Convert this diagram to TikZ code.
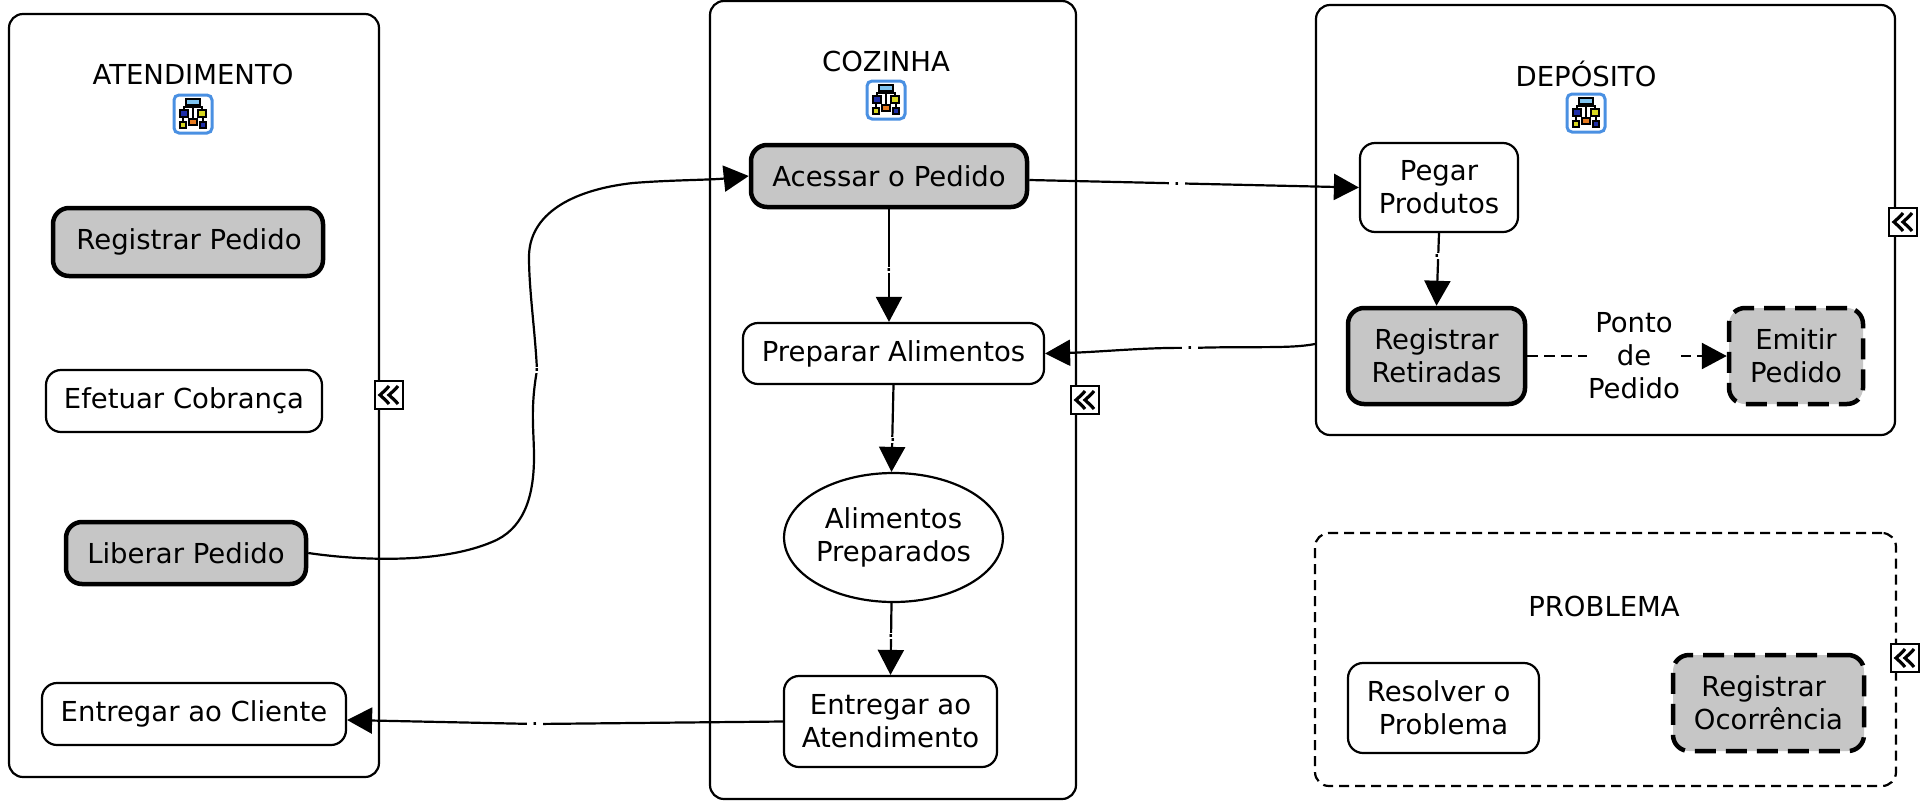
\documentclass[tikz,border=0pt]{standalone}
\usepackage{fontspec}
\setmainfont{DejaVu Sans}
\usetikzlibrary{arrows.meta,shapes.geometric,calc}
\definecolor{fillgrey}{HTML}{C6C6C6}
\definecolor{iconblue}{HTML}{4A90E2}
\definecolor{icontop}{HTML}{7FC4F0}
\definecolor{iconnavy}{HTML}{1F2FA8}
\definecolor{iconyellow}{HTML}{D8D820}
\definecolor{iconorange}{HTML}{E87B20}
\newcommand{\bx}[7]{%
  \pgfmathsetmacro\cxx{(#2+#4)/2}\pgfmathsetmacro\cyy{(#3+#5)/2}%
  \pgfmathsetmacro\www{#4-#2-2}\pgfmathsetmacro\hhh{#5-#3-2}%
  \node[#6,minimum width=\www pt,minimum height=\hhh pt] (#1) at (\cxx,\cyy) {#7};}
\tikzset{
  base/.style={inner sep=0pt,align=center,font=\fontsize{27.5}{33}\selectfont,text=black},
  pane/.style={draw=black,line width=2.2pt,rounded corners=14pt,fill=white},
  panedash/.style={pane,dash pattern=on 10pt off 6pt},
  plain/.style={base,draw=black,line width=2.2pt,rounded corners=15pt,fill=white},
  heavy/.style={base,draw=black,line width=4.5pt,rounded corners=16pt,fill=fillgrey},
  heavydash/.style={heavy,dash pattern=on 21pt off 10pt},
  oval/.style={base,ellipse,draw=black,line width=2.2pt,fill=white},
  title/.style={inner sep=0pt,font=\fontsize{27.5}{33}\selectfont,text=black},
  conn/.style={draw=black,line width=2.2pt,-{Triangle[length=25pt,width=26pt]}},
  conndash/.style={conn,line width=2.5pt,dash pattern=on 11pt off 6pt},
  midlabel/.style={fill=white,inner sep=0pt,minimum width=16pt,minimum height=6pt,text height=3pt,text depth=0pt,font=\fontsize{24}{24}\selectfont},
  orgicon/.pic={
    \draw[iconblue,line width=3pt,rounded corners=5pt,fill=white] (-19,-19) rectangle (19,19);
    \draw[black,line width=1.5pt] (0,-8) -- (0,5) (-9,-4) -- (-9,-7) -- (9,-7) -- (9,-4) (-10,3) -- (-10,7) (10,3) -- (10,7);
    \draw[black,line width=1.2pt,fill=icontop] (-7,-15) rectangle (7,-9);
    \draw[black,line width=1.2pt,fill=iconnavy] (-13,-4) rectangle (-5,3);
    \draw[black,line width=1.2pt,fill=iconyellow] (5,-4) rectangle (13,3);
    \draw[black,line width=1.2pt,fill=iconyellow] (-13,8) rectangle (-7,14);
    \draw[black,line width=1.2pt,fill=iconorange] (-4,5) rectangle (4,11);
    \draw[black,line width=1.2pt,fill=iconnavy] (7,8) rectangle (13,14);
  },
  backicon/.pic={
    \draw[black,line width=2.2pt,fill=white] (-14,-14) rectangle (14,14);
    \draw[black,line width=3.2pt] (0,-9) .. controls (-3,-5) and (-6,-3) .. (-9,0) .. controls (-6,3) and (-3,5) .. (0,9);
    \draw[black,line width=3.2pt] (9,-9) .. controls (6,-5) and (3,-3) .. (0,0) .. controls (3,3) and (6,5) .. (9,9);
  }
}
\begin{document}
\begin{tikzpicture}[x=1pt,y=-1pt]
\useasboundingbox (0,0) rectangle (1928,801);
\fill[white] (0,0) rectangle (1928,801);
% panes
\bx{atendimento}{8}{13}{380}{778}{pane}{}
\bx{cozinha}{709}{0}{1077}{800}{pane}{}
\bx{deposito}{1315}{4}{1896}{436}{pane}{}
\bx{problema}{1314}{532}{1897}{787}{panedash}{}
% pane titles and icons
\node[title] (t1) at (193,74) {ATENDIMENTO};
\node[title] (t2) at (886,61) {COZINHA};
\node[title] (t3) at (1586,74) {DEPÓSITO};
\node[title] (t4) at (1604,606) {PROBLEMA};
\pic at (193,114) {orgicon};
\pic at (886,100) {orgicon};
\pic at (1586,113) {orgicon};
% nodes
\bx{regped}{52}{207}{324}{277}{heavy}{\hspace*{2pt}Registrar Pedido}
\bx{cobranca}{45}{369}{323}{433}{plain}{Efetuar Cobrança}
\bx{liberar}{65}{521}{307}{585}{heavy}{Liberar Pedido}
\bx{cliente}{41}{682}{347}{746}{plain}{Entregar ao Cliente}
\bx{acessar}{750}{144}{1028}{208}{heavy}{Acessar o Pedido}
\bx{preparar}{742}{322}{1045}{385}{plain}{Preparar Alimentos}
\bx{alimentos}{786}{472}{1001}{603}{oval}{Alimentos\\Preparados}
\bx{atend}{783}{675}{998}{768}{plain}{Entregar ao\\Atendimento}
\bx{pegar}{1359}{142}{1519}{233}{plain}{Pegar\\Produtos}
\bx{retiradas}{1347}{307}{1526}{405}{heavy}{Registrar\\Retiradas}
\bx{emitir}{1728}{307}{1864}{405}{heavydash}{Emitir\\Pedido}
\bx{resolver}{1347}{662}{1540}{754}{plain}{Resolver o\hspace*{0.35em}\\Problema}
\bx{ocorrencia}{1672}{654}{1865}{752}{heavydash}{Registrar\hspace*{0.35em}\\Ocorrência}
% connectors
\draw[conn] (liberar.east) .. controls (370,562) and (445,562) .. (492,542) .. controls (522,530) and (534,500) .. (534,457) .. controls (534,430) and (530,410) .. (537,370) .. controls (535,330) and (529,290) .. (529,257) .. controls (529,215) and (570,190) .. (633,183) .. controls (670,180) and (710,180) .. (acessar.west);
\draw[conn] ([yshift=-4pt]acessar.east) -- (pegar.west);
\draw[conn] (acessar.south) -- (acessar.south |- preparar.north);
\draw[conn] (preparar.south) -- ([xshift=-2pt]alimentos.north);
\draw[conn] ([xshift=-2pt]alimentos.south) -- (atend.north);
\draw[conn] (atend.west) -- (535,724) -- ([yshift=-6pt]cliente.east);
\draw[conn] (pegar.south) -- (retiradas.north);
\coordinate (depout) at ([yshift=-124pt]deposito.west);
\draw[conn] (depout) .. controls (1290,349) and (1250,346) .. (1190,348) .. controls (1150,347) and (1100,352) .. (preparar.east);
\draw[conndash] (retiradas.east) -- (emitir.west);
% connector labels
\node[midlabel] (g1) at (537,370) {.};
\node[midlabel] (g2) at (1177,184) {.};
\node[midlabel] (g3) at (889,270) {.};
\node[midlabel] (g4) at (893,440) {.};
\node[midlabel] (g5) at (891,636) {.};
\node[midlabel] (g6) at (535,724) {.};
\node[midlabel] (g7) at (1437,256) {.};
\node[midlabel] (g8) at (1190,348) {.};
\node[base,fill=white,inner xsep=1pt] (ponto) at (1634,356) {Ponto\\de\\Pedido};
% collapse markers
\pic at (389,395) {backicon};
\pic at (1085,400) {backicon};
\pic at (1903,222) {backicon};
\pic at (1905,658) {backicon};
\end{tikzpicture}
\end{document}
